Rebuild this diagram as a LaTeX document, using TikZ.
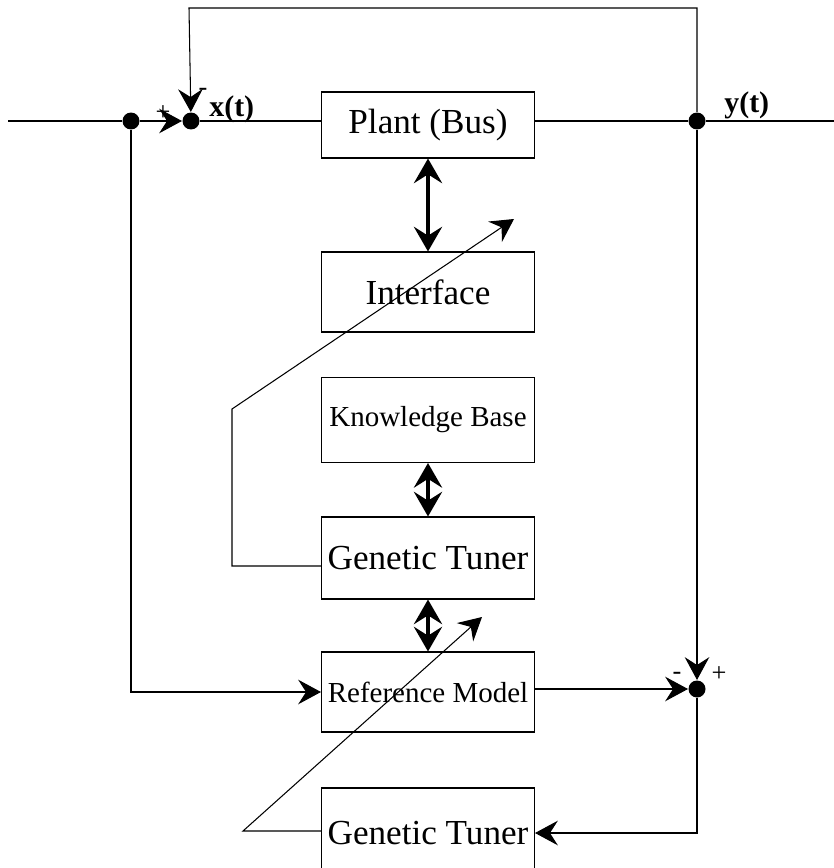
\documentclass[tikz,border=0pt]{standalone}
\usepackage{fontspec}
\setmainfont{Liberation Serif}
\usepackage{tikz}
\usetikzlibrary{arrows.meta,positioning,calc}

\begin{document}
\begin{tikzpicture}[x=0.02cm,y=-0.02cm,line width=0.6pt,
  blk/.style={draw, rectangle, minimum width=4.26cm, inner sep=0pt, font=\fontsize{20}{24}\selectfont},
  sblk/.style={blk, font=\fontsize{16.5}{20}\selectfont},
  junc/.style={circle, fill=black, minimum size=0.34cm, inner sep=0pt},
  sig/.style={font=\fontsize{17}{20}\selectfont\bfseries},
  sgn/.style={font=\fontsize{15}{18}\selectfont},
  >={Stealth[length=13pt,width=14pt,inset=4.5pt]},
  dbl/.style={line width=2.8pt, {Stealth[length=14pt,width=16pt,inset=5pt]}-{Stealth[length=14pt,width=16pt,inset=5pt]}}]
\useasboundingbox (0,0) rectangle (834,868);
% blocks
\node[blk, minimum height=1.32cm] (plant) at (428,125) {Plant (Bus)};
\node[blk, minimum height=1.6cm] (iface) at (428,292) {Interface};
\node[sblk, minimum height=1.7cm] (kbase) at (428,420) {Knowledge Base};
\node[blk, minimum height=1.64cm] (tuner) at (428,558) {Genetic Tuner};
\node[sblk, minimum height=1.6cm] (refmodel) at (428,692) {Reference Model};
\node[blk, minimum height=1.8cm] (tunerb) at (428,833) {Genetic Tuner};
% junctions
\node[junc] (split) at (131,121) {};
\node[junc] (sumx) at (191,121) {};
\node[junc] (spy) at (697,121) {};
\node[junc] (sumy) at (697,689) {};
\coordinate (in) at (8,121);
\coordinate (out) at (834,121);
\coordinate (fbr) at (697,8);
\coordinate (fbl) at (189,8);
\coordinate (bendA) at (232,409);
\coordinate (tipA) at (514,219);
\coordinate (bendB) at (243,831);
\coordinate (tipB) at (482,617);
% signals
\node[sig, right] at (203,109) {x(t)};
\node[sig, right] at (718,105) {y(t)};
\node[sgn] at (163,113) {+};
\node[sgn] at (203,92) {-};
\node[sgn] at (677,676) {-};
\node[sgn] at (719,674) {+};
% main line
\draw (in) -- (split);
\draw[->] (split) -- (sumx);
\draw (sumx) -- (plant.west |- sumx);
\draw (plant.east |- spy) -- (spy) -- (out);
% feedback
\draw[->] (spy) -- (fbr) -- (fbl) -- (sumx);
\draw[->] (spy) -- (sumy);
\draw[->] (split) |- (refmodel.west);
\draw[->] (refmodel.east |- sumy) -- (sumy);
\draw[->] (sumy) |- (tunerb.east);
% links
\draw[dbl] (plant) -- (iface);
\draw[dbl] (kbase) -- (tuner);
\draw[dbl] (tuner) -- (refmodel);
% tuning arrows
\draw[->] ($(tuner.west)+(0,8)$) -| (bendA) -- (tipA);
\draw[->] (tunerb.west |- bendB) -- (bendB) -- (tipB);
\end{tikzpicture}
\end{document}
